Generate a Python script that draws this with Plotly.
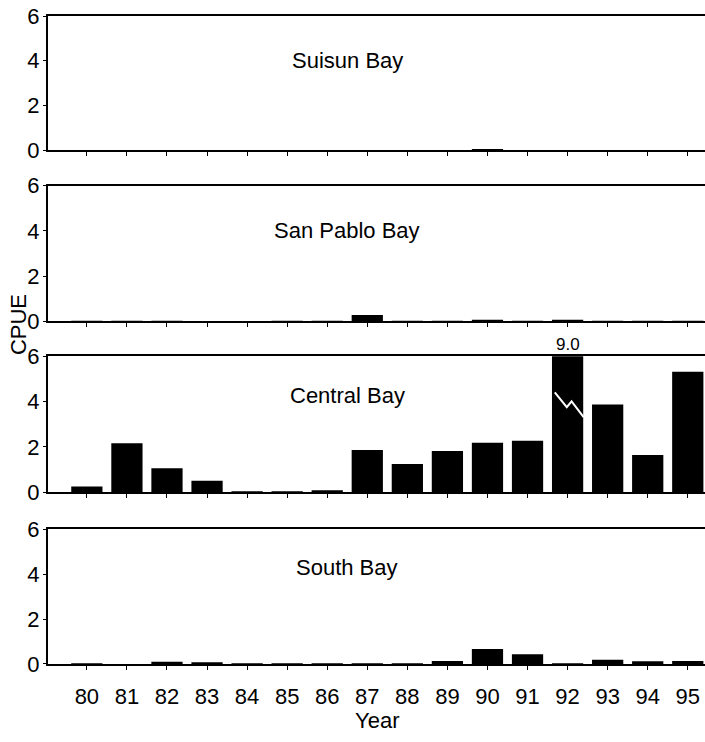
import plotly.graph_objects as go
from plotly.subplots import make_subplots

years = list(range(80, 96))
year_labels = [str(y) for y in years]

suisun = [0.0, 0.0, 0.0, 0.0, 0.0, 0.0, 0.0, 0.0, 0.0, 0.0, 0.03, 0.0, 0.0, 0.0, 0.0, 0.0]
san_pablo = [0.01, 0.01, 0.01, 0.0, 0.0, 0.01, 0.01, 0.27, 0.01, 0.01, 0.03, 0.01, 0.02, 0.01, 0.01, 0.01]
central = [0.25, 2.16, 1.06, 0.51, 0.03, 0.03, 0.09, 1.86, 1.25, 1.82, 2.18, 2.27, 9.0, 3.87, 1.64, 5.31]
south = [0.02, 0.0, 0.1, 0.06, 0.01, 0.02, 0.03, 0.02, 0.03, 0.13, 0.67, 0.43, 0.02, 0.19, 0.12, 0.13]

panel_names = ["Suisun Bay", "San Pablo Bay", "Central Bay", "South Bay"]
panel_series = [suisun, san_pablo, central, south]
label_y = [4.0, 4.0, 4.25, 4.3]

# break symbol across the off-scale Central Bay bar (1992)
break_year = 92
break_dx = [-0.32, -0.02, 0.10, 0.40]
break_y = [4.41, 3.75, 4.01, 3.31]
off_scale_label = "9.0"

y_max = 6
y_ticks = [0, 2, 4, 6]

FONT = "Liberation Sans, Arial, sans-serif"

fig = make_subplots(rows=4, cols=1, shared_xaxes=False, vertical_spacing=0.0)

domains = [[0.793, 1.0], [0.529, 0.738], [0.265, 0.475], [0.0, 0.208]]

for i, (name, vals) in enumerate(zip(panel_names, panel_series), start=1):
    fig.add_trace(go.Bar(x=years, y=vals, marker=dict(color="black", line=dict(width=0)),
                         showlegend=False), row=i, col=1)
    fig.add_annotation(x=86.5, y=label_y[i - 1], text=name, showarrow=False,
                       xref=f"x{'' if i == 1 else i}", yref=f"y{'' if i == 1 else i}",
                       font=dict(family=FONT, size=22, color="black"))

fig.add_trace(go.Scatter(x=[break_year + d for d in break_dx], y=break_y, mode="lines",
                         line=dict(color="white", width=2), showlegend=False,
                         hoverinfo="skip"), row=3, col=1)
fig.add_annotation(x=break_year, y=y_max, text=off_scale_label, showarrow=False,
                   xref="x3", yref="y3", yanchor="bottom", yshift=0,
                   font=dict(family=FONT, size=17, color="black"))

for i in range(1, 5):
    fig.update_xaxes(row=i, col=1, range=[79.03, 95.43], tickmode="array",
                     tickvals=years, ticktext=year_labels if i == 4 else [""] * len(years),
                     showticklabels=(i == 4), ticks="outside", ticklen=4, tickwidth=1,
                     tickcolor="black", showline=True, linecolor="black", linewidth=2,
                     mirror=True, showgrid=False, zeroline=False, automargin=False,
                     ticklabelstandoff=8,
                     tickfont=dict(family=FONT, size=22, color="black"))
    fig.update_yaxes(row=i, col=1, range=[0, y_max], tickvals=y_ticks,
                     ticks="outside", ticklen=3, tickwidth=1, tickcolor="black",
                     showline=True, linecolor="black", linewidth=2, showgrid=False,
                     zeroline=False, domain=domains[i - 1], automargin=False,
                     ticklabelstandoff=-1,
                     tickfont=dict(family=FONT, size=22, color="black"))

fig.add_annotation(xref="paper", yref="paper", x=0, y=0.523, xshift=-30,
                   xanchor="center", yanchor="middle",
                   text="CPUE", textangle=-90, showarrow=False,
                   font=dict(family=FONT, size=22, color="black"))
fig.add_annotation(xref="paper", yref="paper", x=0.5, y=0, yshift=-56,
                   xanchor="center", yanchor="middle",
                   text="Year", showarrow=False,
                   font=dict(family=FONT, size=22, color="black"))

fig.update_layout(width=705, height=742, bargap=0.22,
                  margin=dict(l=48, r=0, t=16, b=78),
                  plot_bgcolor="white", paper_bgcolor="white")

fig.write_html("out.html", config={"displayModeBar": False},
               post_script="document.body.style.margin='0';document.body.style.overflow='hidden';")
